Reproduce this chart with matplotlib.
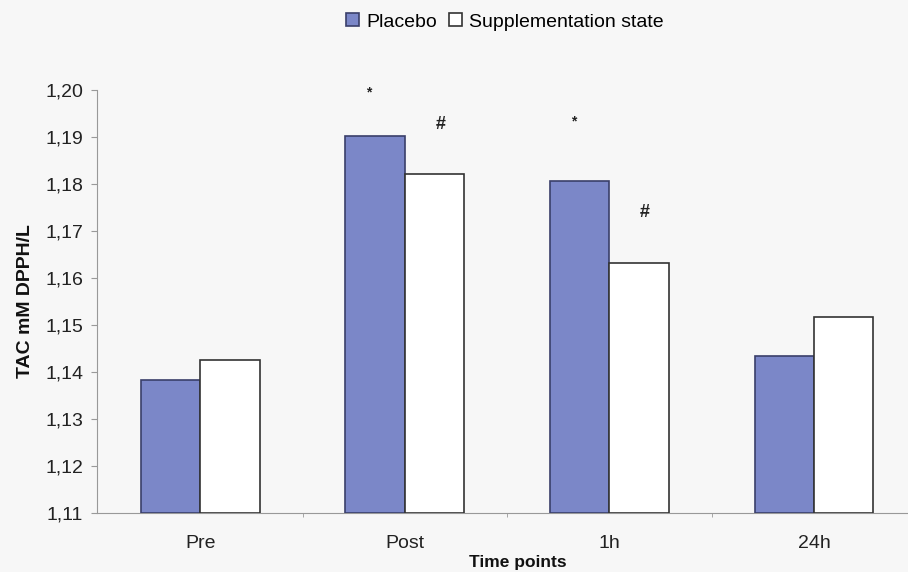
import matplotlib
matplotlib.use("Agg")
import matplotlib.pyplot as plt
import numpy as np

categories = ["Pre", "Post", "1h", "24h"]
placebo = [1.1384, 1.1903, 1.1806, 1.1433]
supplementation = [1.1426, 1.1822, 1.1632, 1.1516]
series_names = ["Placebo", "Supplementation state"]
yticks = [1.11, 1.12, 1.13, 1.14, 1.15, 1.16, 1.17, 1.18, 1.19, 1.20]
star_marks = [("*", 1, 1.1994), ("*", 2, 1.1934)]
hash_marks = [("#", 1, 1.1926), ("#", 2, 1.1740)]

plt.rcParams['font.family'] = ['Liberation Sans', 'DejaVu Sans']
bg = "#f7f7f7"
bar_color = "#7b87c8"

fig = plt.figure(figsize=(9.08, 5.72), dpi=100, facecolor=bg)
ax = fig.add_axes([0.1068, 0.1031, 0.8932, 0.7396], facecolor=bg)

x = np.arange(len(categories))
w = 0.29
ymin = 1.11
ax.bar(x - w / 2, np.array(placebo) - ymin, w, bottom=ymin, color=bar_color,
       edgecolor="#3a3f6a", linewidth=1.2, label=series_names[0], zorder=3)
ax.bar(x + w / 2, np.array(supplementation) - ymin, w, bottom=ymin, color="white",
       edgecolor="#333333", linewidth=1.2, label=series_names[1], zorder=3)

for s, xi, yi in star_marks:
    ax.text(xi - w / 2 - 0.03, yi, s, ha="center", va="center", fontsize=10,
            fontweight="bold", color="#222222")
for s, xi, yi in hash_marks:
    ax.text(xi + w / 2 + 0.03, yi, s, ha="center", va="center", fontsize=13,
            fontweight="bold", color="#222222")

ax.set_ylim(1.11, 1.20)
ax.set_xlim(-0.505, 3.46)
ax.set_yticks(yticks)
ax.set_yticklabels([f"{v:.2f}".replace(".", ",") for v in yticks], fontsize=14, color="#222222")
ax.set_xticks(x)
ax.set_xticklabels(categories, fontsize=14, color="#222222")
ax.tick_params(axis="x", length=0, pad=16)
ax.set_xticks(x[:-1] + 0.5, minor=True)
ax.tick_params(axis="x", which="minor", length=3, color="#999999")
ax.tick_params(axis="y", length=4, color="#999999", pad=6)

for side in ["top", "right"]:
    ax.spines[side].set_visible(False)
ax.spines["left"].set_color("#999999")
ax.spines["bottom"].set_color("#999999")

ax.set_ylabel("TAC mM DPPH/L", fontsize=14, fontweight="bold", labelpad=8, color="#111111")
fig.text(518 / 908, 1 - 562 / 572, "Time points", ha="center", va="center",
         fontsize=12.5, fontweight="bold", color="#111111")

leg = fig.legend(loc="center", bbox_to_anchor=(505 / 908, 1 - 22 / 572), ncol=2,
                 frameon=False, fontsize=14, handlelength=0.65, handleheight=0.65,
                 handletextpad=0.4, columnspacing=0.6)

fig.savefig("out.png", dpi=100, facecolor=bg)
